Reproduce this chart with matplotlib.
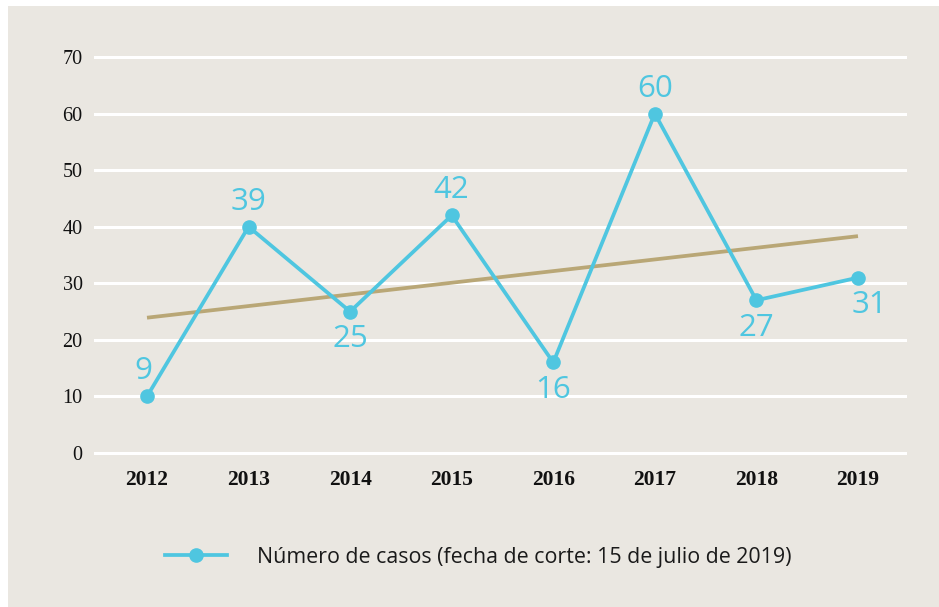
import numpy as np
import matplotlib
matplotlib.use('Agg')
import matplotlib.pyplot as plt
from matplotlib.patches import Rectangle

# data
years = ['2012', '2013', '2014', '2015', '2016', '2017', '2018', '2019']
casos = [10, 40, 25, 42, 16, 60, 27, 31]          # plotted positions
etiquetas = ['9', '39', '25', '42', '16', '60', '27', '31']
etiqueta_vals = [9, 39, 25, 42, 16, 60, 27, 31]   # values used for the trend
y_ticks = [0, 10, 20, 30, 40, 50, 60, 70]
legend_label = 'Número de casos (fecha de corte: 15 de julio de 2019)'

CYAN = '#4fc6e0'
TAN = '#b9a776'
BG = '#eae7e1'

W, H = 939, 607
fig = plt.figure(figsize=(W / 100, H / 100), dpi=100)
fig.patch.set_facecolor('white')
# beige panel, with a thin white strip on the left and top
fig.patches.append(Rectangle((8 / W, 0), 1 - 8 / W, 1 - 6 / H,
                             transform=fig.transFigure, facecolor=BG,
                             edgecolor='none', zorder=-5))

ax = fig.add_axes([95 / W, 1 - 453 / H, (905 - 95) / W, (453 - 57) / H])
ax.set_facecolor('none')

x = np.arange(len(years))

# white gridlines
for v in y_ticks:
    ax.axhline(v, color='white', lw=2.2, zorder=1, clip_on=False)

# linear trend
m, b = np.polyfit(x, etiqueta_vals, 1)
ax.plot(x, m * x + b, color=TAN, lw=2.7, zorder=2, solid_capstyle='butt')

ax.plot(x, casos, color=CYAN, lw=2.7, marker='o', markersize=9.5,
        zorder=3, label=legend_label, clip_on=False)

# data labels: above / below the point
lab_pos = ['up', 'up', 'down', 'up', 'down', 'up', 'down', 'down']
for i, (v, t, p) in enumerate(zip(casos, etiquetas, lab_pos)):
    dx = -3 if i == 0 else (8 if i == len(years) - 1 else 0)
    dy = 18 if p == 'up' else -20
    ax.annotate(t, (x[i], v), xytext=(dx, dy), textcoords='offset points',
                ha='center', va='center', color=CYAN, fontsize=22.5,
                family='Open Sans', zorder=4)

ax.set_xlim(-0.512, 7.463)
ax.set_ylim(0, 70)
ax.set_yticks(y_ticks)
ax.set_yticklabels([str(v) for v in y_ticks], family='Liberation Serif',
                   fontsize=14.5, color='#111111')
ax.set_xticks(x)
ax.set_xticklabels(years, family='Liberation Serif', fontsize=15.5,
                   fontweight='bold', color='#111111')
ax.tick_params(axis='y', length=0, pad=9)
ax.tick_params(axis='x', length=0, pad=12)
for s in ax.spines.values():
    s.set_visible(False)

fig.legend(loc='center left', bbox_to_anchor=(165 / W, 1 - 557 / H),
           frameon=False, prop={'family': 'Open Sans', 'size': 15.4},
           handlelength=2.9, handletextpad=1.4, borderpad=0,
           borderaxespad=0, labelcolor='#1a1a1a')

fig.savefig('out.png', dpi=100, facecolor=fig.get_facecolor())
